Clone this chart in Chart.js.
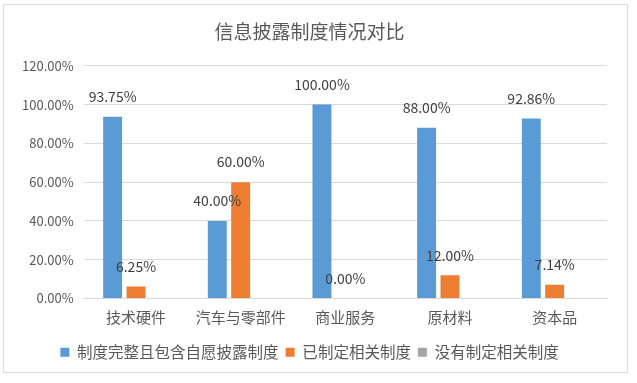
<!DOCTYPE html>
<html>
<head>
<meta charset="utf-8">
<script src="https://cdn.jsdelivr.net/npm/chart.js@4/dist/chart.umd.min.js"></script>
<style>
  body { margin: 0; background: #fff; }
  #box { position: absolute; left: 3px; top: 4px; width: 623px; height: 367px; border: 1px solid #d9d9d9; }
</style>
</head>
<body>
<div id="box"><canvas id="myChart" width="623" height="367"></canvas></div>
<script>
'use strict'

let categories = ['技术硬件', '汽车与零部件', '商业服务', '原材料', '资本品']
let fullSystem = [93.75, 40.00, 100.00, 88.00, 92.86]
let hasSystem = [6.25, 60.00, 0.00, 12.00, 7.14]
let noSystem = [0, 0, 0, 0, 0]
let seriesNames = ['制度完整且包含自愿披露制度', '已制定相关制度', '没有制定相关制度']

let fontName = '"Noto Sans CJK SC", "Noto Sans", sans-serif'

// labels above blue and orange bars
let barLabels = {
    id: 'barLabels',
    afterDatasetsDraw(chart) {
        let ctx = chart.ctx
        ctx.save()
        ctx.font = '14px ' + fontName
        ctx.fillStyle = '#404040'
        ctx.textAlign = 'center'
        ctx.textBaseline = 'bottom'
        for (let d = 0; d < 2; d++) {
            let meta = chart.getDatasetMeta(d)
            meta.data.forEach(function (bar, i) {
                let v = chart.data.datasets[d].data[i]
                ctx.fillText(v.toFixed(2) + '%', bar.x, bar.y - 13)
            })
        }
        ctx.restore()
    }
}

let ctx = document.getElementById('myChart').getContext('2d')
let myChart = new Chart(ctx, {
    type: 'bar',
    data: {
        labels: categories,
        datasets: [{
            label: seriesNames[0],
            data: fullSystem,
            backgroundColor: '#5b9bd5'
        }, {
            label: seriesNames[1],
            data: hasSystem,
            backgroundColor: '#ed7d31'
        }, {
            label: seriesNames[2],
            data: noSystem,
            backgroundColor: '#a5a5a5'
        }]
    },
    options: {
        responsive: false,
        animation: false,
        categoryPercentage: 0.67,
        barPercentage: 0.81,
        layout: { padding: { left: 8, right: 20, top: 4, bottom: 2 } },
        plugins: {
            title: {
                display: true,
                text: '信息披露制度情况对比',
                color: '#595959',
                font: { family: fontName, size: 19, weight: 'normal' },
                padding: { top: 11, bottom: 23 }
            },
            legend: {
                position: 'bottom',
                labels: {
                    boxWidth: 9,
                    boxHeight: 9,
                    padding: 7,
                    color: '#595959',
                    font: { family: fontName, size: 15.5 }
                }
            },
            tooltip: { enabled: false }
        },
        scales: {
            y: {
                min: 0,
                max: 120,
                ticks: {
                    stepSize: 20,
                    color: '#595959',
                    font: { family: fontName, size: 13 },
                    padding: 10,
                    callback: function (v) { return v.toFixed(2) + '%' }
                },
                grid: { color: '#d9d9d9', drawTicks: false },
                border: { display: false }
            },
            x: {
                afterFit: function (scale) { scale.height += 9 },
                ticks: {
                    color: '#595959',
                    font: { family: fontName, size: 15 },
                    padding: 2
                },
                grid: { display: false },
                border: { color: '#d9d9d9' }
            }
        }
    },
    plugins: [barLabels]
})
</script>
</body>
</html>
